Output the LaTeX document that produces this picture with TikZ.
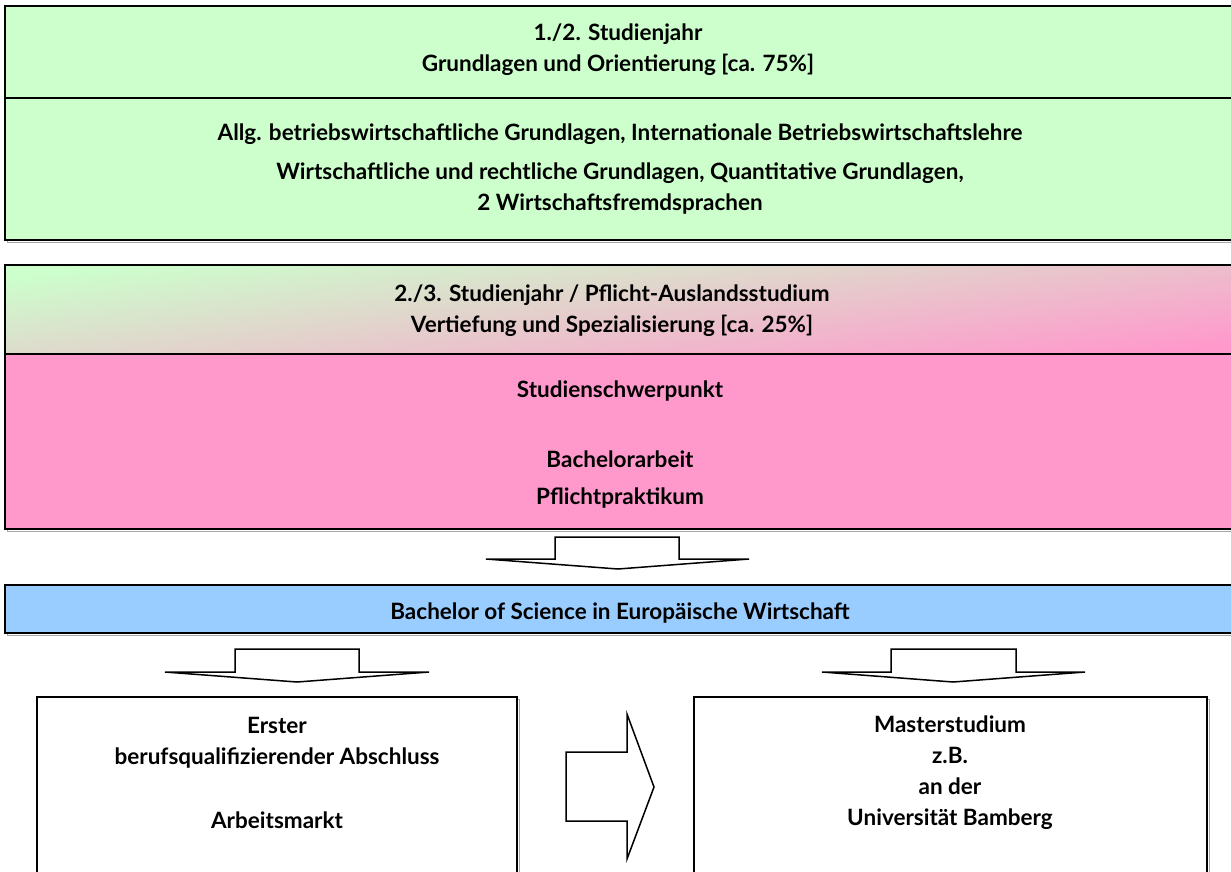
\documentclass[tikz,border=0pt]{standalone}
\usepackage{fontspec}
\setmainfont{Lato}
\definecolor{lgreen}{HTML}{CCFFCC}
\definecolor{lpink}{HTML}{FF99CC}
\definecolor{lblue}{HTML}{99CCFF}
\tikzset{
  frame/.style={draw=black, line width=1.6pt},
  shadowline/.style={draw=black!35, line width=1pt},
  blockarrow/.style={draw=black, line width=1.5pt, fill=white, line join=miter},
  txt/.style={font=\fontsize{22.5}{31}\selectfont\bfseries, align=center, inner sep=0pt}
}
\begin{document}
\begin{tikzpicture}[x=1pt,y=-1pt]
\useasboundingbox (0,0) rectangle (1231,871);
% ---- box 1
\path[shadowline] (7,8) rectangle (1245,242);
\path[frame, fill=lgreen] (5,6) rectangle (1245,98);
\path[frame, fill=lgreen] (5,98) rectangle (1245,240);
\node[txt] (t1) at (618,49.5) {1./2. Studienjahr\\Grundlagen und Orientierung [ca. 75\%]};
\node[txt] (t2) at (620,134) {Allg. betriebswirtschaftliche Grundlagen, Internationale Betriebswirtschaftslehre};
\node[txt] (t3) at (620,188.5) {Wirtschaftliche und rechtliche Grundlagen, Quantitative Grundlagen,\\2 Wirtschaftsfremdsprachen};
% ---- box 2
\path[shadowline] (7,267) rectangle (1245,531);
\shade[top color=lgreen, bottom color=lpink, shading angle=7] (5,265) rectangle (1245,354);
\path[frame] (5,265) rectangle (1245,354);
\path[frame, fill=lpink] (5,354) rectangle (1245,529);
\node[txt] (t4) at (612,310.5) {2./3. Studienjahr / Pflicht-Auslandsstudium\\Vertiefung und Spezialisierung [ca. 25\%]};
\node[txt] (t5) at (620,391) {Studienschwerpunkt};
\node[txt] (t6) at (620,479.5) {Bachelorarbeit\\[6pt]Pflichtpraktikum};
% ---- arrow 1
\path[blockarrow] (555,537) -- (679,537) -- (679,559) -- (749,559) -- (618,569) -- (486,559) -- (555,559) -- cycle;
% ---- blue bar
\path[shadowline] (7,587) rectangle (1245,635);
\path[frame, fill=lblue] (5,585) rectangle (1245,633);
\node[txt] (t7) at (620,613) {Bachelor of Science in Europäische Wirtschaft};
% ---- arrows 2, 3
\path[blockarrow] (235,649) -- (359,649) -- (359,672) -- (429,672) -- (297,682) -- (165,672) -- (235,672) -- cycle;
\path[blockarrow] (891,649) -- (1016,649) -- (1016,672) -- (1085,672) -- (953,682) -- (822,672) -- (891,672) -- cycle;
% ---- bottom boxes
\path[shadowline] (39,699) rectangle (519,880);
\path[frame, fill=white] (37,697) rectangle (517,880);
\path[shadowline] (696,699) rectangle (1209,880);
\path[frame, fill=white] (694,697) rectangle (1207,880);
\node[txt] (t8) at (277,742.5) {Erster\\berufsqualifizierender Abschluss};
\node[txt] (t9) at (277,820) {Arbeitsmarkt};
\node[txt] (t10) at (950,773) {Masterstudium\\z.B.\\an der\\Universität Bamberg};
% ---- right arrow
\path[blockarrow] (566,752) -- (627,752) -- (627,714) -- (654,787) -- (627,859) -- (627,821) -- (566,821) -- cycle;
\end{tikzpicture}
\end{document}
